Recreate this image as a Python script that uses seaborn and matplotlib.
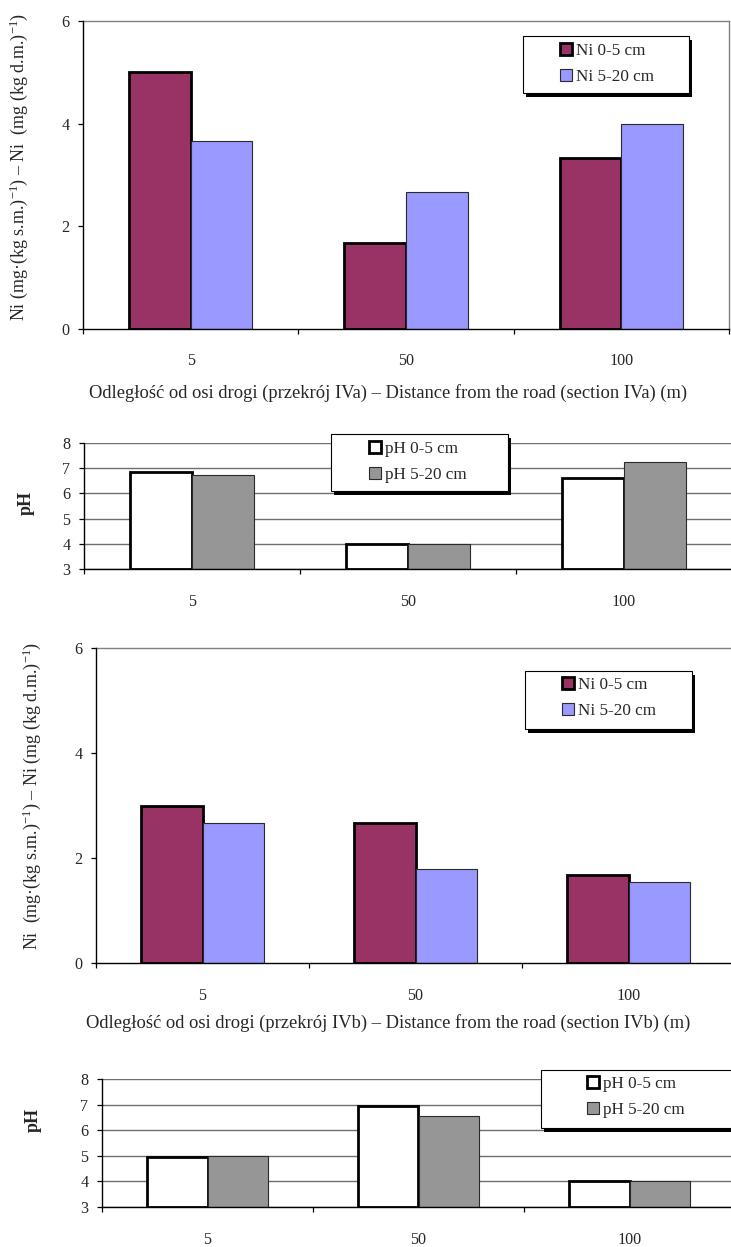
import numpy as np
import pandas as pd
import matplotlib
matplotlib.use("Agg")
import matplotlib.pyplot as plt
from matplotlib.patches import Rectangle, Patch
import seaborn as sns

# ---- data -------------------------------------------------------------
distances = ["5", "50", "100"]

ni_labels = ["Ni 0-5 cm", "Ni 5-20 cm"]
ph_labels = ["pH 0-5 cm", "pH 5-20 cm"]

# section IVa
ni_iva_0_5 = [5.0, 1.67, 3.33]
ni_iva_5_20 = [3.67, 2.67, 4.0]
ph_iva_0_5 = [6.83, 4.0, 6.6]
ph_iva_5_20 = [6.72, 4.0, 7.25]

# section IVb
ni_ivb_0_5 = [3.0, 2.67, 1.67]
ni_ivb_5_20 = [2.67, 1.8, 1.55]
ph_ivb_0_5 = [4.97, 6.96, 4.0]
ph_ivb_5_20 = [5.0, 6.57, 4.0]

ni_ticks = [0, 2, 4, 6]
ph_ticks = [3, 4, 5, 6, 7, 8]

xlabel_a = "Odległość od osi drogi (przekrój IVa) – Distance from the road (section IVa) (m)"
xlabel_b = "Odległość od osi drogi (przekrój IVb) – Distance from the road (section IVb) (m)"
ylabel_a = "Ni (mg·(kg s.m.)$^{-1}$) – Ni  (mg (kg d.m.)$^{-1}$)"
ylabel_b = "Ni  (mg·(kg s.m.)$^{-1}$) – Ni (mg (kg d.m.)$^{-1}$)"

# ---- style ------------------------------------------------------------
MAROON = "#993366"
LILAC = "#9999FF"
GREY = "#969696"
WHITE = "#FFFFFF"

sns.set_theme(style="white")
plt.rcParams["font.family"] = ["Liberation Serif", "DejaVu Serif"]
plt.rcParams["mathtext.fontset"] = "custom"
plt.rcParams["mathtext.rm"] = "Liberation Serif"
plt.rcParams["mathtext.it"] = "Liberation Serif:italic"
plt.rcParams["mathtext.bf"] = "Liberation Serif:bold"

W, H = 731, 1247
FS_TICK = 11.6
FS_XLABEL = 13.3
FS_YLABEL = 13
FS_LEGEND = 12.3
FS_PH = 13

fig = plt.figure(figsize=(W / 100, H / 100), dpi=100)
fig.patch.set_facecolor("white")


def fx(px):
    return px / W


def fy(py):
    return 1 - py / H


def axes_px(left, top, right, bottom):
    return fig.add_axes([fx(left), fy(bottom), (right - left) / W, (bottom - top) / H])


def long_frame(first, second, names):
    return pd.DataFrame({
        "distance": distances * 2,
        "depth": [names[0]] * len(first) + [names[1]] * len(second),
        "value": list(first) + list(second),
    })


def draw_panel(ax, first, second, names, colors, ticks, base=None,
               grid=False, top_spine=True, right_spine=False, label_pad=16):
    df = long_frame(first, second, names)
    sns.barplot(data=df, x="distance", y="value", hue="depth",
                order=distances, hue_order=names, palette=colors,
                width=0.574, saturation=1, errorbar=None, legend=False,
                ax=ax, zorder=2)
    thick, thin = ax.containers[0], ax.containers[1]
    for p in thick:
        p.set_edgecolor("black")
        p.set_linewidth(2.0)
    for p in thin:
        p.set_edgecolor("#2a2a2a")
        p.set_linewidth(0.8)
    if base is not None:
        for p in list(thick) + list(thin):
            h = p.get_height()
            p.set_y(base)
            p.set_height(h - base)

    ax.set_xlim(-0.5, 2.5)
    ax.set_ylim(ticks[0], ticks[-1])
    ax.set_yticks(ticks)
    ax.set_yticklabels([str(t) for t in ticks], fontsize=FS_TICK)

    # category boundaries get tick marks, names sit between them
    ax.set_xticks([-0.5, 0.5, 1.5, 2.5])
    ax.set_xticklabels([])
    ax.set_xticks([0, 1, 2], minor=True)
    ax.set_xticklabels(distances, minor=True, fontsize=FS_TICK)
    ax.tick_params(axis="x", which="major", bottom=True, length=3.8,
                   width=0.9, color="black", direction="out")
    ax.tick_params(axis="x", which="minor", bottom=True, length=0,
                   pad=label_pad)
    ax.tick_params(axis="y", left=True, length=3.8, width=0.9,
                   color="black", direction="out", pad=6)
    ax.set_xlabel("")
    ax.set_ylabel("")

    ax.set_facecolor("white")
    for side in ("left", "bottom"):
        ax.spines[side].set_color("black")
        ax.spines[side].set_linewidth(1.0)
        ax.spines[side].set_zorder(3)
    ax.spines["top"].set_visible(top_spine)
    ax.spines["top"].set_color("#808080")
    ax.spines["top"].set_linewidth(1.0)
    ax.spines["right"].set_visible(right_spine)
    ax.spines["right"].set_color("#808080")
    ax.spines["right"].set_linewidth(1.0)

    if grid:
        ax.yaxis.grid(True, color="#6e6e6e", linewidth=1.0)
        ax.set_axisbelow(True)
    else:
        ax.yaxis.grid(False)
    ax.xaxis.grid(False)


def boxed_legend(ax, box, names, colors, handle_dx, row1_dy):
    """White box with a black drop shadow, entries placed inside it."""
    left, top, right, bottom = box
    shadow = Rectangle((fx(left + 3), fy(bottom + 4)), fx(right - left),
                       (bottom - top) / H, transform=fig.transFigure,
                       facecolor="black", edgecolor="none", zorder=6,
                       clip_on=False)
    frame = Rectangle((fx(left), fy(bottom)), fx(right - left),
                      (bottom - top) / H, transform=fig.transFigure,
                      facecolor="white", edgecolor="black", linewidth=0.8,
                      zorder=7, clip_on=False)
    ax.add_artist(shadow)
    ax.add_artist(frame)
    handles = [
        Patch(facecolor=colors[0], edgecolor="black", linewidth=2.0),
        Patch(facecolor=colors[1], edgecolor="#2a2a2a", linewidth=0.8),
    ]
    leg = ax.legend(handles, names, loc="upper left",
                    bbox_to_anchor=(fx(left + handle_dx), fy(top + row1_dy)),
                    bbox_transform=fig.transFigure, frameon=False,
                    borderpad=0, borderaxespad=0, handlelength=0.7,
                    handleheight=0.7, handletextpad=0.25, labelspacing=0.6,
                    fontsize=FS_LEGEND)
    leg.set_zorder(8)


# ---- panel 1: Ni, section IVa ----------------------------------------
ax1 = axes_px(83, 21, 729, 329)
draw_panel(ax1, ni_iva_0_5, ni_iva_5_20, ni_labels, [MAROON, LILAC],
           ni_ticks, top_spine=True, right_spine=True, label_pad=17)
boxed_legend(ax1, (523, 36, 689, 93), ni_labels, [MAROON, LILAC], 37, 7)
ax1.set_xlabel(xlabel_a, fontsize=FS_XLABEL)
ax1.xaxis.set_label_coords((388 - 83) / 646, -(393 - 329) / 308)
ax1.xaxis.label.set_va("center")
fig.text(fx(19), fy(167), ylabel_a, rotation=90, ha="center", va="center",
         fontsize=FS_YLABEL)

# ---- panel 2: pH, section IVa ----------------------------------------
ax2 = axes_px(84, 443, 732, 569)
draw_panel(ax2, ph_iva_0_5, ph_iva_5_20, ph_labels, [WHITE, GREY],
           ph_ticks, base=3, grid=True, top_spine=False, label_pad=18)
boxed_legend(ax2, (331, 434, 508, 491), ph_labels, [WHITE, GREY], 38, 7)
fig.text(fx(26), fy(503), "pH", rotation=90, ha="center", va="center",
         fontsize=FS_PH, fontweight="bold")

# ---- panel 3: Ni, section IVb ----------------------------------------
ax3 = axes_px(96, 648, 735, 963)
draw_panel(ax3, ni_ivb_0_5, ni_ivb_5_20, ni_labels, [MAROON, LILAC],
           ni_ticks, top_spine=True, label_pad=18)
boxed_legend(ax3, (525, 671, 692, 729), ni_labels, [MAROON, LILAC], 37, 6)
ax3.set_xlabel(xlabel_b, fontsize=FS_XLABEL)
ax3.xaxis.set_label_coords((388 - 96) / 639, -(1023 - 963) / 315)
ax3.xaxis.label.set_va("center")
fig.text(fx(32), fy(796), ylabel_b, rotation=90, ha="center", va="center",
         fontsize=FS_YLABEL)

# ---- panel 4: pH, section IVb ----------------------------------------
ax4 = axes_px(102, 1079, 735, 1207)
draw_panel(ax4, ph_ivb_0_5, ph_ivb_5_20, ph_labels, [WHITE, GREY],
           ph_ticks, base=3, grid=True, top_spine=False, label_pad=18)
boxed_legend(ax4, (541, 1070, 745, 1128), ph_labels, [WHITE, GREY], 46, 6)
fig.text(fx(33), fy(1120), "pH", rotation=90, ha="center", va="center",
         fontsize=FS_PH, fontweight="bold")

fig.savefig("out.png", dpi=100, facecolor="white")
